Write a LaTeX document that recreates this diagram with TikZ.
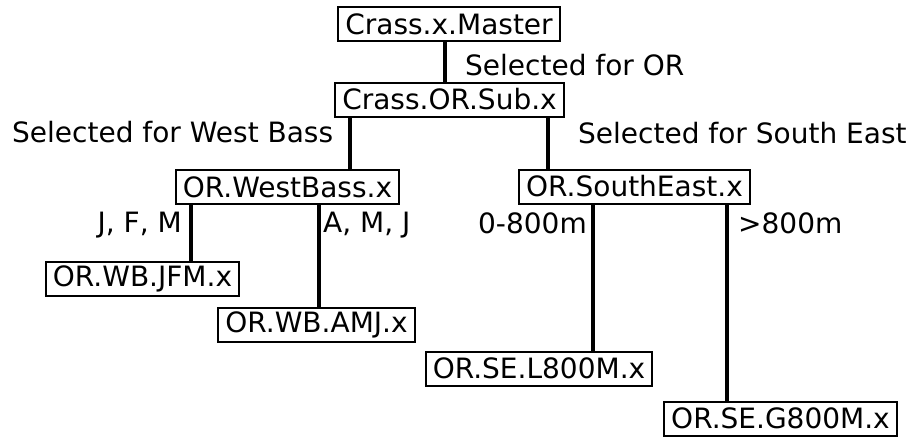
\documentclass[tikz,border=0pt]{standalone}
\usepackage{fontspec}
\setmainfont{DejaVu Sans}
\usetikzlibrary{positioning}
\tikzset{box/.style = {draw, line width=2pt, inner xsep=7pt, inner ysep=2pt,
                       minimum height=34pt, font=\fontsize{28}{30}\selectfont}}
\tikzset{lbl/.style = {inner sep=0, font=\fontsize{28}{30}\selectfont}}
\tikzset{conn/.style = {line width=4pt}}

\begin{document}
\begin{tikzpicture}[x=1pt,y=-1pt]
      \useasboundingbox (0,0) rectangle (912,439);
      \node[box] (master) at (449,24) {Crass.x.Master};
      \node[box] (sub) at (449.5,99.5) {Crass.OR.Sub.x};
      \node[box] (wb) at (287.5,187) {OR.WestBass.x};
      \node[box] (se) at (634.5,186.5) {OR.SouthEast.x};
      \node[box] (jfm) at (142.5,279) {OR.WB.JFM.x};
      \node[box] (amj) at (316.5,324.5) {OR.WB.AMJ.x};
      \node[box] (l800) at (539,368.5) {OR.SE.L800M.x};
      \node[box] (g800) at (780.5,418.5) {OR.SE.G800M.x};
      \draw[conn] (master.south -| 445,0) -- (sub.north -| 445,0);
      \draw[conn] (sub.south -| 350,0) -- (wb.north -| 350,0);
      \draw[conn] (sub.south -| 548,0) -- (se.north -| 548,0);
      \draw[conn] (wb.south -| 191,0) -- (jfm.north -| 191,0);
      \draw[conn] (wb.south -| 319,0) -- (amj.north -| 319,0);
      \draw[conn] (se.south -| 593,0) -- (l800.north -| 593,0);
      \draw[conn] (se.south -| 727,0) -- (g800.north -| 727,0);
      \node[lbl, anchor=base west] (selor) at (465,75) {Selected for OR};
      \node[lbl, anchor=base west] (selwb) at (12,142) {Selected for West Bass};
      \node[lbl, anchor=base west] (selse) at (578,143) {Selected for South East};
      \node[lbl, anchor=base east] (ljfm) at (182,232) {J, F, M};
      \node[lbl, anchor=base west] (lamj) at (323,232) {A, M, J};
      \node[lbl, anchor=base east] (ll800) at (587,233) {0-800m};
      \node[lbl, anchor=base west] (lg800) at (738,233) {>800m};
    \end{tikzpicture}
\end{document}
